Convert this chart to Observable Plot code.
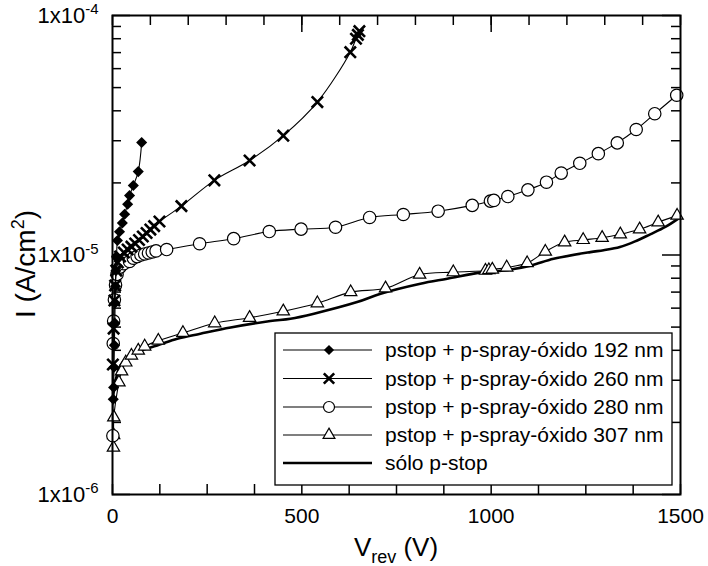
<!DOCTYPE html>
<html><head><meta charset="utf-8">
<script src="https://cdn.jsdelivr.net/npm/d3@7"></script>
<script src="https://cdn.jsdelivr.net/npm/@observablehq/plot@0.6"></script>
<style>
body{margin:0;background:#fff}
#chart{width:708px;height:566px}
</style>
</head><body><div id="chart"></div>
<script>
// ---- data (V in volts, I in A/cm^2) ----
const v192 = [2, 3, 4, 5, 6, 7, 8, 9, 10.6, 13, 18.5, 26, 32, 40, 45, 55, 68, 77];
const i192 = [2.5e-6, 2.8e-6, 3.4e-6, 4.2e-6, 5.2e-6, 6.3e-6, 7.4e-6, 8.6e-6, 9.87e-6, 1.15e-5, 1.25e-5, 1.36e-5, 1.48e-5, 1.63e-5, 1.77e-5, 1.95e-5, 2.23e-5, 2.95e-5];

const v260 = [1, 3, 5, 7, 10, 14, 20, 30, 40, 50, 60, 70, 80, 90, 100, 110, 124, 182, 269, 362, 451, 541, 628, 643, 648, 652];
const i260 = [3.49e-6, 4.93e-6, 6.46e-6, 7.46e-6, 8.61e-6, 9.31e-6, 9.86e-6, 1.024e-5, 1.054e-5, 1.084e-5, 1.117e-5, 1.155e-5, 1.195e-5, 1.236e-5, 1.277e-5, 1.32e-5, 1.38e-5, 1.60e-5, 2.05e-5, 2.48e-5, 3.15e-5, 4.35e-5, 7.03e-5, 8.0e-5, 8.3e-5, 8.6e-5];

const v280 = [1, 2, 3, 5, 8, 12, 20, 30, 45, 55, 65, 75, 85, 95, 105, 115, 143, 230, 320, 414, 498, 589, 679, 768, 860, 950, 998, 1007, 1044, 1097, 1146, 1185, 1234, 1283, 1333, 1383, 1432, 1490];
const i280 = [1.76e-6, 4.27e-6, 5.3e-6, 6.5e-6, 7.5e-6, 8.3e-6, 8.9e-6, 9.2e-6, 9.4e-6, 9.7e-6, 9.85e-6, 1.0e-5, 1.01e-5, 1.02e-5, 1.03e-5, 1.04e-5, 1.054e-5, 1.114e-5, 1.17e-5, 1.253e-5, 1.282e-5, 1.306e-5, 1.435e-5, 1.476e-5, 1.524e-5, 1.611e-5, 1.679e-5, 1.69e-5, 1.754e-5, 1.871e-5, 2.014e-5, 2.198e-5, 2.415e-5, 2.649e-5, 2.938e-5, 3.342e-5, 3.89e-5, 4.645e-5];

const v307 = [2.5, 3, 3.5, 17, 24, 35, 50, 68, 85, 121, 186, 270, 362, 451, 541, 629, 721, 811, 900, 985, 994, 1003, 1041, 1095, 1143, 1194, 1243, 1293, 1341, 1392, 1441, 1491];
const i307 = [1.57e-6, 1.77e-6, 2.10e-6, 2.94e-6, 3.27e-6, 3.56e-6, 3.80e-6, 3.99e-6, 4.15e-6, 4.39e-6, 4.73e-6, 5.19e-6, 5.47e-6, 5.82e-6, 6.29e-6, 7.00e-6, 7.26e-6, 8.29e-6, 8.48e-6, 8.6e-6, 8.65e-6, 8.7e-6, 8.87e-6, 9.25e-6, 1.033e-5, 1.13e-5, 1.156e-5, 1.18e-5, 1.22e-5, 1.28e-5, 1.37e-5, 1.46e-5];

const vPs = [2, 8, 21, 39, 74, 118, 171, 232, 312, 417, 470, 532, 646, 708, 813, 884, 980, 1033, 1104, 1165, 1262, 1297, 1340, 1380, 1420, 1460, 1500];
const iPs = [2.59e-6, 2.99e-6, 3.46e-6, 3.74e-6, 3.99e-6, 4.19e-6, 4.47e-6, 4.69e-6, 4.98e-6, 5.30e-6, 5.42e-6, 5.69e-6, 6.36e-6, 6.89e-6, 7.59e-6, 7.96e-6, 8.48e-6, 8.61e-6, 9.03e-6, 9.64e-6, 1.028e-5, 1.047e-5, 1.08e-5, 1.14e-5, 1.22e-5, 1.31e-5, 1.44e-5];

const seriesNames = ["pstop + p-spray-óxido 192 nm", "pstop + p-spray-óxido 260 nm", "pstop + p-spray-óxido 280 nm", "pstop + p-spray-óxido 307 nm", "sólo p-stop"];

// ---- ticks ----
const xTickLabels = [0, 500, 1000, 1500];
const xTicksBottom = [0, 125, 250, 375, 500, 625, 750, 875, 1000, 1125, 1250, 1375, 1500];
const xTicksTop = [0, 100, 200, 300, 400, 500, 600, 700, 800, 900, 1000, 1100, 1200, 1300, 1400, 1500];
const xTicksTopMajor = [500, 1000];
const yTickLabels = [1e-6, 1e-5, 1e-4];
const yTicksMinor = [2e-6, 3e-6, 4e-6, 5e-6, 6e-6, 7e-6, 8e-6, 9e-6, 2e-5, 3e-5, 4e-5, 5e-5, 6e-5, 7e-5, 8e-5, 9e-5];

const zip = (vs, is) => vs.map((v, k) => ({v, i: is[k]}));
const d192 = zip(v192, i192), d260 = zip(v260, i260), d280 = zip(v280, i280), d307 = zip(v307, i307), dPs = zip(vPs, iPs);

const W = 708, H = 566, mL = 112, mR = 28, mT = 15, mB = 72;
const innerW = W - mL - mR, innerH = H - mT - mB;
const FONT = "'Liberation Sans', Arial, Helvetica, sans-serif";
const lineOpt = {x: "v", y: "i", stroke: "black", strokeWidth: 1.1, curve: "catmull-rom"};

const plot = Plot.plot({
  width: W, height: H,
  marginLeft: mL, marginRight: mR, marginTop: mT, marginBottom: mB,
  style: {fontFamily: FONT, fontSize: "21px", color: "#000", background: "#fff", overflow: "visible"},
  x: {domain: [0, 1500]},
  y: {type: "log", domain: [1e-6, 1e-4]},
  marks: [
    Plot.axisX({ticks: xTickLabels, tickSize: 0, tickPadding: 14, tickFormat: d => String(d), label: null, fontSize: 21}),
    Plot.axisY({ticks: yTickLabels, tickSize: 0, tickPadding: 14, tickFormat: d => "1x10^" + Math.round(Math.log10(d)), label: null, fontSize: 22}),
    // inward ticks
    Plot.tickX(xTicksBottom, {x: d => d, insetTop: innerH - 10, strokeWidth: 1.5}),
    Plot.tickX(xTicksTop, {x: d => d, insetBottom: innerH - 10, strokeWidth: 1.5}),
    Plot.tickX(xTicksTopMajor, {x: d => d, insetBottom: innerH - 17, strokeWidth: 1.5}),
    Plot.tickY(yTicksMinor, {y: d => d, insetRight: innerW - 9, strokeWidth: 1.5}),
    Plot.tickY(yTicksMinor, {y: d => d, insetLeft: innerW - 9, strokeWidth: 1.5}),
    Plot.tickY(yTickLabels, {y: d => d, insetRight: innerW - 18, strokeWidth: 1.5}),
    Plot.tickY(yTickLabels, {y: d => d, insetLeft: innerW - 18, strokeWidth: 1.5}),
    // series
    Plot.line(dPs, {...lineOpt, strokeWidth: 2.6}),
    Plot.line(d307, lineOpt),
    Plot.dot(d307, {x: "v", y: "i", symbol: "triangle", r: 4.6, fill: "white", stroke: "black", strokeWidth: 1.2}),
    Plot.line(d280, lineOpt),
    Plot.dot(d280, {x: "v", y: "i", symbol: "circle", r: 6.2, fill: "white", stroke: "black", strokeWidth: 1.2}),
    Plot.line(d260, lineOpt),
    Plot.dot(d260, {x: "v", y: "i", symbol: "times", r: 5.2, stroke: "black", strokeWidth: 2.6}),
    Plot.line(d192, lineOpt),
    Plot.dot(d192, {x: "v", y: "i", symbol: "diamond2", r: 5, fill: "black", stroke: "none"}),
    Plot.frame({stroke: "black", strokeWidth: 2})
  ]
});

document.getElementById("chart").appendChild(plot);
const svg = d3.select(plot);

// superscript exponents on y tick labels
svg.selectAll('g[aria-label="y-axis tick label"] text').each(function() {
  const t = d3.select(this);
  const parts = t.text().split("^");
  t.text(parts[0]);
  t.append("tspan").attr("dy", "-0.55em").attr("font-size", "15px").text(parts[1]);
});

// axis titles
const xt = svg.append("text").attr("x", 396).attr("y", 556).attr("text-anchor", "middle")
  .attr("font-family", FONT).attr("font-size", 26).attr("fill", "black");
xt.append("tspan").text("V");
xt.append("tspan").attr("font-size", 18).attr("dy", 7).text("rev");
xt.append("tspan").attr("dy", -7).text(" (V)");

const yt = svg.append("text").attr("transform", "translate(35,264) rotate(-90)").attr("text-anchor", "middle")
  .attr("font-family", FONT).attr("font-size", 28).attr("fill", "black");
yt.append("tspan").text("I (A/cm");
yt.append("tspan").attr("font-size", 18).attr("dy", -11).text("2");
yt.append("tspan").attr("dy", 11).text(")");

// legend
const lg = svg.append("g").attr("font-family", FONT).attr("font-size", 21).attr("text-anchor", "start");
lg.append("rect").attr("x", 275).attr("y", 333).attr("width", 397).attr("height", 152)
  .attr("fill", "white").attr("stroke", "black").attr("stroke-width", 1.3);
const legSym = [
  {sym: d3.symbolDiamond2, r: 4.6, fill: "black", stroke: "none", sw: 0},
  {sym: d3.symbolTimes, r: 4.8, fill: "none", stroke: "black", sw: 2.6},
  {sym: d3.symbolCircle, r: 5.5, fill: "white", stroke: "black", sw: 1.2},
  {sym: d3.symbolTriangle, r: 4.4, fill: "white", stroke: "black", sw: 1.2},
  null
];
const legY = [350, 378.5, 407, 435, 463];
seriesNames.forEach((name, k) => {
  const y = legY[k];
  lg.append("line").attr("x1", 283).attr("x2", 372).attr("y1", y).attr("y2", y)
    .attr("stroke", "black").attr("stroke-width", k === 4 ? 2.6 : 1.1);
  const s = legSym[k];
  if (s) {
    lg.append("path").attr("transform", `translate(329,${y})`)
      .attr("d", d3.symbol(s.sym, Math.PI * s.r * s.r)())
      .attr("fill", s.fill).attr("stroke", s.stroke).attr("stroke-width", s.sw);
  }
  lg.append("text").attr("x", 385).attr("y", y).attr("dy", "0.35em").attr("text-anchor", "start").attr("fill", "black").text(name);
});
</script>
</body></html>
